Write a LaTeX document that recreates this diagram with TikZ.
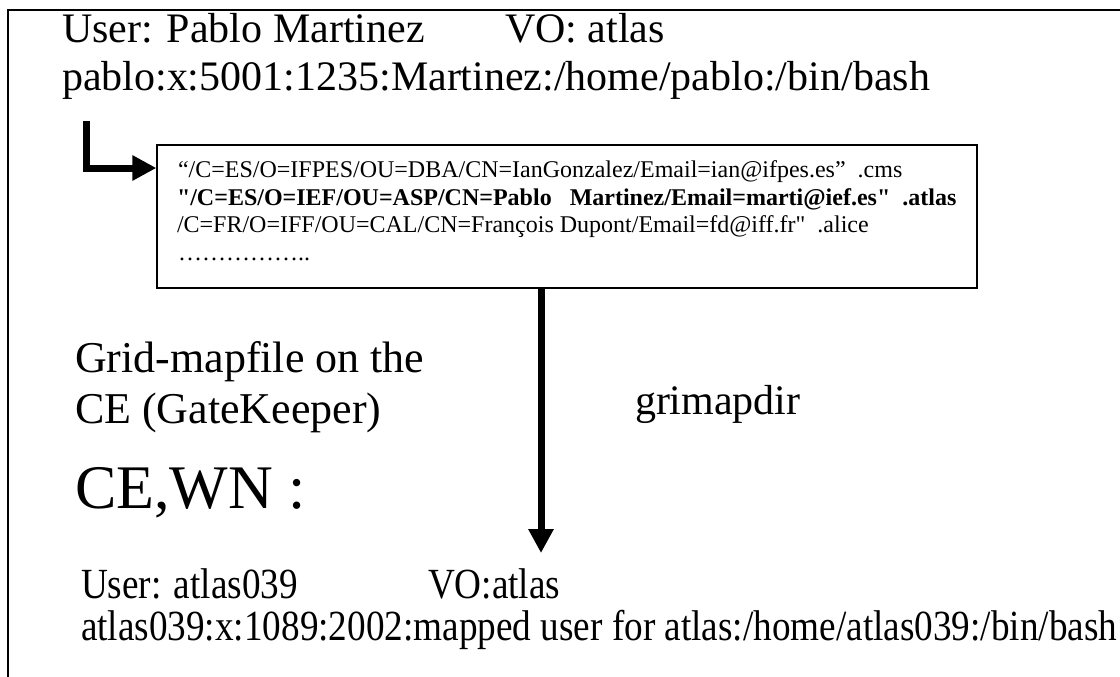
\documentclass[tikz,border=0pt]{standalone}
\usepackage{fontspec}
\usepackage{graphicx}
\setmainfont{Liberation Serif}[Ligatures=TeXOff]
\usetikzlibrary{arrows.meta}
\tikzset{
  txt/.style={anchor=base west, inner sep=0pt, outer sep=0pt},
  bigtxt/.style={txt, font=\fontsize{42}{48}\selectfont},
  midtxt/.style={txt, font=\fontsize{44}{50}\selectfont},
  smalltxt/.style={txt, font=\fontsize{24}{28}\selectfont},
  bottxt/.style={txt, font=\fontsize{43}{48}\selectfont},
  mapbox/.style={draw, line width=1.3pt, inner sep=0pt, minimum width=820pt, minimum height=143pt},
  thickarrow/.style={line width=7pt, -{Triangle[length=24pt,width=24pt]}},
}
\newcommand{\cond}[1]{\scalebox{0.865}[1]{#1}}
\begin{document}
\begin{tikzpicture}[x=1pt,y=-1pt]
\useasboundingbox (0,0) rectangle (1120,677);
\fill[white] (0,0) rectangle (1120,677);
% outer frame (top and left only)
\draw[line width=2pt] (8,677) -- (8,10) -- (1120,10);
% top texts
\node[bigtxt] (u1) at (62,43) {User: Pablo Martinez};
\node[bigtxt] (vo1) at (505,43) {VO: atlas};
\node[bigtxt] (pw1) at (62,91) {pablo:x:5001:1235:Martinez:/home/pablo:/bin/bash};
% grid-mapfile box
\node[mapbox] (map) at (567,216.5) {};
\node[smalltxt] (m1) at (178,177) {“/C=ES/O=IFPES/OU=DBA/CN=IanGonzalez/Email=ian@ifpes.es”\ \ .cms};
\node[smalltxt] (m2) at (177,205) {\bfseries "/C=ES/O=IEF/OU=ASP/CN=Pablo\ \ \ Martinez/Email=marti@ief.es"\ \ .atlas};
\node[smalltxt] (m3) at (177,232) {/C=FR/O=IFF/OU=CAL/CN=François Dupont/Email=fd@iff.fr"\ \ .alice};
\node[smalltxt] (m4) at (178,260) {……………..};
% elbow arrow
\coordinate (elb) at (86,121);
\coordinate (arrowy) at (0,168);
\draw[thickarrow] (elb) |- (map.west |- arrowy);
% vertical arrow
\coordinate (vx) at (541,0);
\coordinate (tip) at (541,553);
\draw[thickarrow] (map.south -| vx) -- (tip);
% middle texts
\node[midtxt] (g1) at (75,372) {Grid-mapfile on the};
\node[midtxt] (g2) at (75,423) {CE (GateKeeper)};
\node[txt, font=\fontsize{42}{48}\selectfont] (gd) at (635,414) {grimapdir};
\node[txt, font=\fontsize{62}{70}\selectfont] (cewn) at (75,508) {CE,WN :};
% bottom texts
\node[bottxt] (u2) at (81,598) {\cond{User: atlas039}};
\node[bottxt] (vo2) at (428,598) {\cond{VO:atlas}};
\node[bottxt] (pw2) at (81,640) {\cond{atlas039:x:1089:2002:mapped user for atlas:/home/atlas039:/bin/bash}};
\end{tikzpicture}
\end{document}
